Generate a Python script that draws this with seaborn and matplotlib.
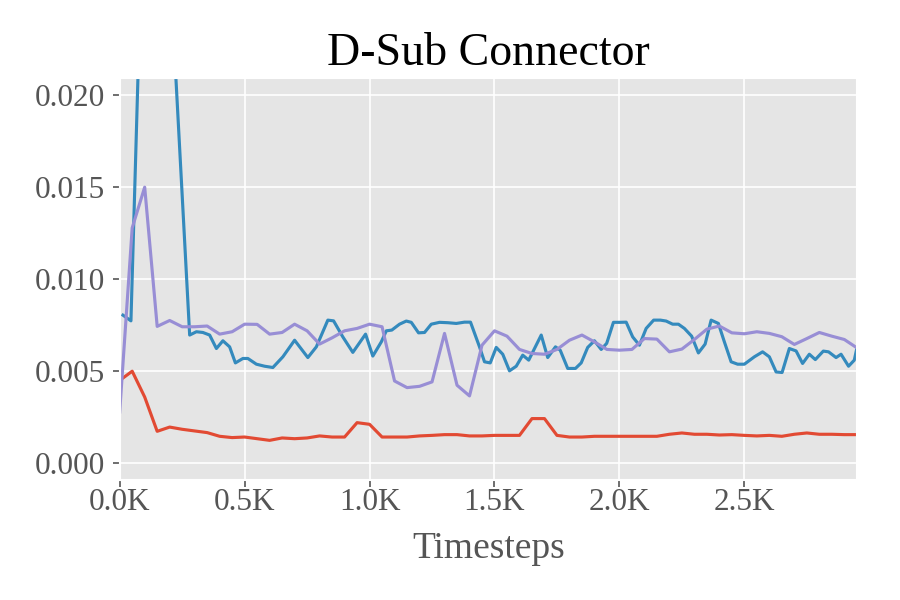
import numpy as np
import pandas as pd
import seaborn as sns
import matplotlib
matplotlib.use("Agg")
import matplotlib.pyplot as plt
from matplotlib.ticker import FuncFormatter

plt.style.use("ggplot")
plt.rcParams["font.family"] = ["Liberation Serif", "DejaVu Serif"]

# evaluation grid for the red and purple runs
steps = list(range(0, 3000, 50))

# values, in units of 1e-3
red_vals = [4.5, 5.0, 3.6, 1.74, 1.97, 1.85, 1.76, 1.67, 1.47, 1.40, 1.43,
            1.34, 1.25, 1.38, 1.34, 1.38, 1.49, 1.43, 1.43, 2.21, 2.12,
            1.43, 1.43, 1.43, 1.49, 1.52, 1.56, 1.56, 1.49, 1.49, 1.52,
            1.52, 1.52, 2.43, 2.43, 1.52, 1.43, 1.43, 1.47, 1.47, 1.47,
            1.47, 1.47, 1.47, 1.58, 1.65, 1.58, 1.58, 1.54, 1.56, 1.52,
            1.49, 1.52, 1.47, 1.58, 1.65, 1.58, 1.58, 1.56, 1.56]

purple_vals = [2.79, 12.77, 14.98, 7.43, 7.75, 7.41, 7.41, 7.45, 7.01, 7.14, 7.55,
               7.54, 7.01, 7.10, 7.55, 7.19, 6.47, 6.81, 7.19, 7.32, 7.55,
               7.41, 4.47, 4.11, 4.18, 4.42, 7.05, 4.24, 3.66, 6.41, 7.19,
               6.90, 6.18, 5.96, 5.92, 6.18, 6.68, 6.96, 6.59, 6.18, 6.14,
               6.18, 6.77, 6.74, 6.05, 6.20, 6.72, 7.28, 7.45, 7.08, 7.03,
               7.14, 7.05, 6.87, 6.45, 6.77, 7.10, 6.90, 6.72, 6.27]

# the blue run is logged more often
blue_steps = [13, 45, 80, 120, 160, 200, 280, 307, 333, 360, 387, 413, 440, 463, 493,
              513, 547, 580, 613, 653, 700, 753, 787, 833, 856, 893, 933, 984,
              1013, 1047, 1067, 1089, 1120, 1147, 1167, 1196, 1220, 1247, 1280, 1313,
              1347, 1380, 1404, 1440, 1460, 1483,
              1507, 1533, 1560, 1587, 1613, 1637, 1687, 1713, 1744, 1763, 1793, 1824,
              1847, 1873, 1900, 1927, 1949, 1976, 2000,
              2027, 2053, 2080, 2107, 2137, 2164, 2187, 2213, 2236, 2260, 2289, 2316,
              2343, 2367, 2396, 2420, 2447, 2473, 2500,
              2540, 2573, 2600, 2627, 2651, 2680, 2707, 2733, 2760, 2784, 2816, 2837,
              2867, 2887, 2917, 2940, 2950]
blue_vals = [8.04, 7.73, 24.2, 31.0, 33.0, 27.2,
             6.96, 7.14, 7.10, 6.96, 6.23, 6.65, 6.32, 5.45, 5.69,
             5.69, 5.38, 5.27, 5.20, 5.78, 6.68, 5.74, 6.32, 7.77, 7.73, 6.86, 6.02, 7.01,
             5.82, 6.59, 7.19, 7.23, 7.55, 7.72, 7.65, 7.08, 7.10, 7.55, 7.65, 7.63,
             7.59, 7.66, 7.66, 6.32, 5.51, 5.45,
             6.29, 5.92, 5.02, 5.27, 5.87, 5.60, 6.96, 5.74, 6.32, 6.14, 5.15, 5.15,
             5.45, 6.29, 6.65, 6.18, 6.51, 7.65, 7.65,
             7.66, 6.86, 6.41, 7.32, 7.77, 7.77, 7.72, 7.55, 7.55, 7.32, 6.90, 5.99,
             6.47, 7.77, 7.59, 6.59, 5.51, 5.38, 5.38,
             5.78, 6.05, 5.78, 4.96, 4.93, 6.23, 6.10, 5.42, 5.92, 5.63, 6.09, 6.05,
             5.74, 5.92, 5.27, 5.60, 6.23]

df = pd.concat([
    pd.DataFrame({"step": steps, "value": np.array(red_vals) * 1e-3, "run": "red"}),
    pd.DataFrame({"step": blue_steps, "value": np.array(blue_vals) * 1e-3, "run": "blue"}),
    pd.DataFrame({"step": steps, "value": np.array(purple_vals) * 1e-3, "run": "purple"}),
])
palette = {"red": "#E24A33", "blue": "#348ABD", "purple": "#988ED5"}

fig = plt.figure(figsize=(6, 4), dpi=150)
ax = fig.add_axes([0.133, 0.2, 0.819, 0.67])
sns.lineplot(data=df, x="step", y="value", hue="run", palette=palette,
             linewidth=1.5, legend=False, ax=ax, estimator=None, sort=True)

ax.set_xlim(0, 2950)
ax.set_ylim(-0.0009, 0.0209)
ax.set_yticks([0.0, 0.005, 0.01, 0.015, 0.02])
ax.yaxis.set_major_formatter(FuncFormatter(lambda v, p: f"{v:.3f}"))
ax.xaxis.set_major_formatter(FuncFormatter(lambda v, p: f"{v / 1000:.1f}K"))
ax.tick_params(labelsize=15)
ax.tick_params(axis="x", pad=0.5)
ax.set_xlabel("Timesteps", fontsize=18, labelpad=7)
ax.set_ylabel("")
ax.set_title("D-Sub Connector", fontsize=22, color="black", pad=6)

fig.savefig("out.png", dpi=150)
